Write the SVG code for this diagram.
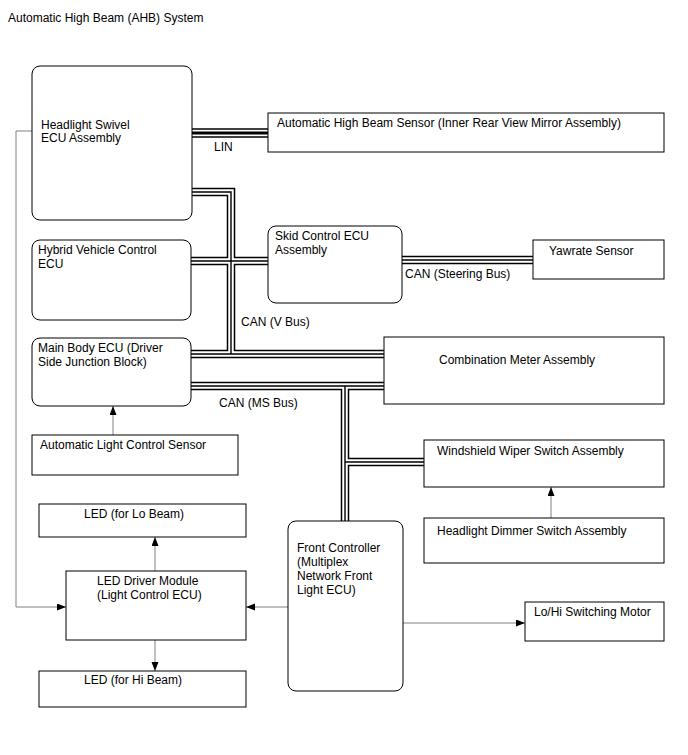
<svg xmlns="http://www.w3.org/2000/svg" width="688" height="755" viewBox="0 0 688 755">
<style>
text{font-family:"Liberation Sans",Arial,sans-serif;font-size:12px;fill:#000}
.box{fill:#fff;stroke:#000;stroke-width:1}
.thin{fill:none;stroke:#808080;stroke-width:1}
.b1{fill:none;stroke:#000;stroke-width:8.5;stroke-linejoin:miter}
.b2{fill:none;stroke:#fff;stroke-width:5.5;stroke-linejoin:miter}
.b3{fill:none;stroke:#000;stroke-width:1.4;stroke-linejoin:miter}
.l1{fill:none;stroke:#000;stroke-width:9.5}
.l2{fill:none;stroke:#fff;stroke-width:6.5}
.l3{fill:none;stroke:#000;stroke-width:3}
</style>
<defs>
<marker id="ah" markerUnits="userSpaceOnUse" markerWidth="10" markerHeight="8" refX="9" refY="3.5" orient="auto">
<path d="M0,0 L9,3.5 L0,7 z" fill="#000"/>
</marker>
<path id="can" d="M192,192 H231 V354 M191,261 H268 M191,354 H384 M191,386 H384 M345,386 V521 M345,462 H424 M402,260 H533"/>
</defs>
<text x="8" y="22">Automatic High Beam (AHB) System</text>
<g id="connectors">
<use href="#can" class="b1"/>
<use href="#can" class="b2"/>
<use href="#can" class="b3"/>
<path d="M192,133 H268" class="l1"/>
<path d="M192,133 H268" class="l2"/>
<path d="M192,133 H268" class="l3"/>
<path class="thin" d="M32,131 H16 V607 H66" marker-end="url(#ah)"/>
<path class="thin" d="M113,435 V406" marker-end="url(#ah)"/>
<path class="thin" d="M155,571 V537" marker-end="url(#ah)"/>
<path class="thin" d="M155,640 V671" marker-end="url(#ah)"/>
<path class="thin" d="M288,607 H246" marker-end="url(#ah)"/>
<path class="thin" d="M403,623 H525" marker-end="url(#ah)"/>
<path class="thin" d="M551,518 V487" marker-end="url(#ah)"/>
<text x="214" y="151">LIN</text>
<text x="405" y="278">CAN (Steering Bus)</text>
<text x="241" y="326">CAN (V Bus)</text>
<text x="219" y="407">CAN (MS Bus)</text>
</g>
<g id="headlight-swivel-ecu">
<rect class="box" x="32" y="66" width="160" height="154" rx="8"/>
<text x="41" y="129">Headlight Swivel</text>
<text x="41" y="142">ECU Assembly</text>
</g>
<g id="ahb-sensor">
<rect class="box" x="268" y="113" width="396" height="39"/>
<text x="277" y="127">Automatic High Beam Sensor (Inner Rear View Mirror Assembly)</text>
</g>
<g id="hybrid-ecu">
<rect class="box" x="32" y="240" width="159" height="80" rx="8"/>
<text x="38" y="254">Hybrid Vehicle Control</text>
<text x="38" y="268">ECU</text>
</g>
<g id="skid-control-ecu">
<rect class="box" x="268" y="226" width="134" height="77" rx="8"/>
<text x="275" y="240">Skid Control ECU</text>
<text x="275" y="254">Assembly</text>
</g>
<g id="yawrate-sensor">
<rect class="box" x="533" y="240" width="131" height="39"/>
<text x="549" y="255">Yawrate Sensor</text>
</g>
<g id="main-body-ecu">
<rect class="box" x="32" y="338" width="159" height="68" rx="8"/>
<text x="38" y="352">Main Body ECU (Driver</text>
<text x="38" y="366">Side Junction Block)</text>
</g>
<g id="combination-meter">
<rect class="box" x="384" y="337" width="280" height="67"/>
<text x="439" y="364">Combination Meter Assembly</text>
</g>
<g id="auto-light-sensor">
<rect class="box" x="32" y="435" width="206" height="40"/>
<text x="40" y="449">Automatic Light Control Sensor</text>
</g>
<g id="wiper-switch">
<rect class="box" x="424" y="440" width="240" height="47"/>
<text x="437" y="455">Windshield Wiper Switch Assembly</text>
</g>
<g id="dimmer-switch">
<rect class="box" x="424" y="518" width="240" height="45"/>
<text x="437" y="535">Headlight Dimmer Switch Assembly</text>
</g>
<g id="led-lo">
<rect class="box" x="39" y="504" width="207" height="33"/>
<text x="84" y="518">LED (for Lo Beam)</text>
</g>
<g id="front-controller">
<rect class="box" x="288" y="521" width="115" height="170" rx="8"/>
<text x="297" y="552">Front Controller</text>
<text x="297" y="566">(Multiplex</text>
<text x="297" y="580">Network Front</text>
<text x="297" y="594">Light ECU)</text>
</g>
<g id="led-driver">
<rect class="box" x="66" y="571" width="180" height="69"/>
<text x="97" y="585">LED Driver Module</text>
<text x="97" y="599">(Light Control ECU)</text>
</g>
<g id="lohi-motor">
<rect class="box" x="525" y="602" width="139" height="39"/>
<text x="534" y="616">Lo/Hi Switching Motor</text>
</g>
<g id="led-hi">
<rect class="box" x="39" y="671" width="207" height="36"/>
<text x="84" y="684">LED (for Hi Beam)</text>
</g>
</svg>
